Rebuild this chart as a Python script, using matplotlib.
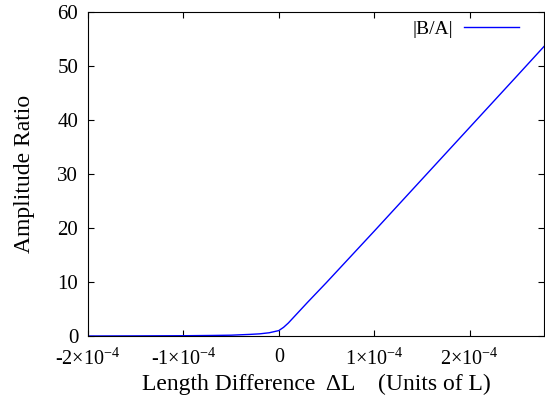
import matplotlib
matplotlib.use("Agg")
import matplotlib.pyplot as plt

plt.rcParams['font.family'] = ['Liberation Serif', 'DejaVu Serif']
plt.rcParams['mathtext.fontset'] = 'custom'
plt.rcParams['mathtext.rm'] = 'Liberation Serif'
plt.rcParams['mathtext.it'] = 'Liberation Serif:italic'

# length difference (units of L) and |B/A|
dl = [-2.0e-4, -1.5e-4, -1.0e-4, -0.7e-4, -0.5e-4, -0.3e-4, -0.2e-4, -0.1e-4,
      -0.05e-4, 0.0, 0.05e-4, 0.1e-4, 0.2e-4, 0.3e-4, 0.5e-4, 1.0e-4,
      1.5e-4, 2.0e-4, 2.5e-4, 2.78e-4]
ratio = [0.0, 0.02, 0.05, 0.1, 0.15, 0.3, 0.4, 0.6,
         0.8, 1.0, 1.6, 2.4, 4.3, 6.2, 9.9, 19.4,
         29.0, 38.6, 48.2, 53.6]

xticks = [-2e-4, -1e-4, 0, 1e-4, 2e-4]
xlabels = ['-2\u00d710$^{-4}$', '-1\u00d710$^{-4}$', '0',
           '1\u00d710$^{-4}$', '2\u00d710$^{-4}$']
yticks = [0, 10, 20, 30, 40, 50, 60]

fig = plt.figure(figsize=(5.45, 4), dpi=100)
ax = fig.add_axes([0.1615, 0.16, 0.8365, 0.81])

ax.plot(dl, ratio, color='blue', lw=1, label='|B/A|')

ax.set_xlim(-2e-4, 2.78e-4)
ax.set_ylim(0, 60)
ax.set_xticks(xticks)
ax.set_xticklabels(xlabels)
ax.set_yticks(yticks)
ax.tick_params(direction='in', top=True, right=True, length=4.5, width=0.8)
ax.tick_params(axis='y', labelsize=15, pad=7)
ax.tick_params(axis='x', labelsize=14.5, pad=9)

ax.set_xlabel('Length Difference  \u0394L    (Units of L)', fontsize=17, labelpad=3)
ax.set_ylabel('Amplitude Ratio', fontsize=17, labelpad=16)

leg = ax.legend(loc='upper right', bbox_to_anchor=(0.945, 0.975), frameon=False,
                fontsize=14, markerfirst=False, handlelength=2.8,
                handletextpad=0.6, borderaxespad=0.0, borderpad=0.0)

fig.savefig('out.png', dpi=100)
